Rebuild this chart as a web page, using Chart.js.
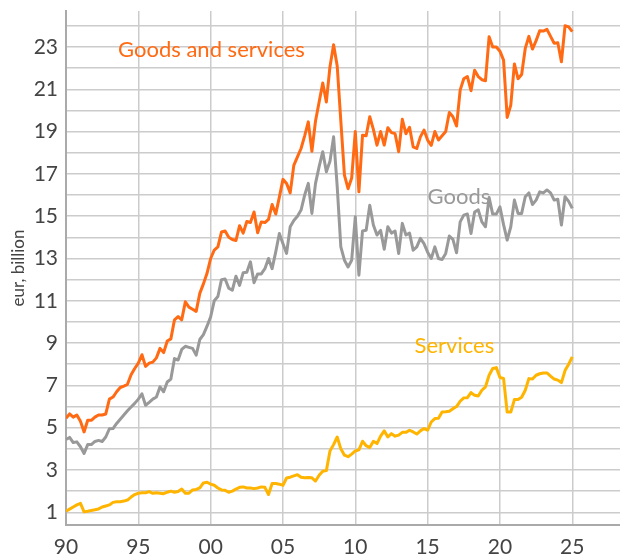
<!DOCTYPE html>
<html>
<head>
<meta charset="utf-8">
<script src="https://cdn.jsdelivr.net/npm/chart.js@4.4.1/dist/chart.umd.min.js"></script>
<style>
  html, body { margin: 0; padding: 0; background: #fff; }
  #wrap { width: 620px; height: 559px; }
</style>
</head>
<body>
<div id="wrap"><canvas id="chart"></canvas></div>
<script>
// quarterly, 1990 Q1 .. 2025 Q1 (eur, billion)
var startYear = 1990;

var goodsAndServices = [
  5.45, 5.65, 5.5, 5.6,   5.3, 4.8, 5.35, 5.35,   5.5, 5.6, 5.6, 5.65,
  6.35, 6.45, 6.7, 6.9,   6.97, 7.05, 7.5, 7.8,   8.05, 8.45, 7.9, 8.05,
  8.1, 8.3, 8.75, 8.55,   9.1, 9.2, 10.1, 10.25,  10.1, 10.95, 10.7, 10.6,
  10.5, 11.35, 11.8, 12.3, 13.0, 13.4, 13.55, 14.25, 14.3, 14.0, 13.9, 13.85,
  14.55, 14.2, 14.75, 14.7, 15.2, 14.22, 14.73, 14.7, 14.85, 15.55, 15.1, 15.9,
  16.74, 16.55, 16.1, 17.4, 17.8, 18.2, 18.8, 19.46, 18.07, 19.5, 20.4, 21.3,
  20.4, 22.07, 23.1, 22.1, 19.5, 16.94, 16.3, 16.8, 19.0, 16.15, 18.83, 18.8,
  19.7, 19.1, 18.36, 19.0, 18.36, 19.18, 18.95, 18.9, 18.05, 19.58, 18.9, 19.2,
  18.28, 18.2, 18.75, 19.07, 18.6, 18.35, 19.0, 18.6, 18.8, 19.0, 19.9, 19.7,
  19.26, 20.96, 21.5, 21.6, 20.93, 21.9, 21.6, 21.45, 21.4, 23.48, 23.0, 23.0,
  22.8, 22.38, 19.67, 20.25, 22.2, 21.5, 21.7, 22.93, 23.5, 22.9, 23.3, 23.77,
  23.75, 23.83, 23.5, 23.17, 23.2, 22.3, 24.0, 23.95, 23.72
];

var goods = [
  4.44, 4.54, 4.3, 4.33,  4.1, 3.78, 4.2, 4.2,    4.35, 4.4, 4.35, 4.56,
  4.95, 4.96, 5.2, 5.4,   5.6, 5.8, 5.98, 6.15,   6.35, 6.6, 6.06, 6.2,
  6.35, 6.45, 6.93, 6.7,  7.16, 7.3, 8.27, 8.2,   8.7, 8.85, 8.8, 8.75,
  8.43, 9.17, 9.4, 9.8,   10.24, 11.0, 11.2, 12.0, 12.03, 11.6, 11.5, 12.16,
  11.73, 12.33, 12.35, 12.84, 11.85, 12.27, 12.27, 12.52, 13.0, 12.52, 13.31, 14.18,
  13.7, 13.24, 14.5, 14.8, 15.0, 15.29, 16.0, 16.55, 15.13, 16.55, 17.34, 18.05,
  17.1, 17.6, 18.75, 16.4, 13.55, 12.92, 12.6, 12.92, 14.97, 12.21, 14.3, 14.33,
  15.52, 14.58, 14.11, 14.33, 13.44, 14.5, 14.2, 14.3, 13.24, 14.66, 14.11, 14.2,
  13.39, 13.55, 13.95, 13.7, 13.3, 13.0, 13.55, 13.0, 12.95, 13.24, 14.06, 13.9,
  13.27, 14.73, 15.05, 15.1, 14.18, 15.2, 15.3, 14.73, 14.5, 15.88, 15.1, 15.1,
  15.44, 14.6, 13.87, 14.5, 15.76, 15.13, 15.13, 15.92, 16.1, 15.55, 15.76, 16.15,
  16.1, 16.24, 16.1, 15.76, 15.8, 14.58, 15.92, 15.7, 15.37
];

var services = [
  1.05, 1.15, 1.25, 1.35, 1.42, 1.02, 1.05, 1.09,  1.12, 1.16, 1.25, 1.3,
  1.35, 1.47, 1.5, 1.5,   1.53, 1.58, 1.72, 1.84,  1.9, 1.92, 1.92, 1.98,
  1.9, 1.92, 1.9, 1.88,   1.95, 2.0, 1.95, 1.98,   2.1, 1.9, 1.9, 2.06,
  2.08, 2.15, 2.39, 2.42, 2.33, 2.28, 2.15, 2.06,  2.04, 1.95, 2.0, 2.1,
  2.18, 2.2, 2.15, 2.15,  2.12, 2.15, 2.2, 2.18,   1.84, 2.36, 2.36, 2.33,
  2.28, 2.62, 2.66, 2.72, 2.78, 2.66, 2.63, 2.65,  2.63, 2.48, 2.75, 2.94,
  2.97, 3.9, 4.2, 4.56,   4.0, 3.7, 3.63, 3.75,    3.9, 3.95, 4.36, 4.15,
  4.06, 4.36, 4.25, 4.6,  4.85, 4.56, 4.72, 4.6,   4.65, 4.78, 4.78, 4.88,
  4.8, 4.7, 4.85, 4.96,   4.88, 5.27, 5.43, 5.45,  5.74, 5.75, 5.78, 5.9,
  6.0, 6.25, 6.41, 6.42,  6.66, 6.53, 6.5, 6.77,   6.93, 7.48, 7.8, 7.84,
  7.37, 7.33, 5.74, 5.74, 6.33, 6.33, 6.44, 6.77,  7.32, 7.3, 7.48, 7.55,
  7.59, 7.59, 7.44, 7.3,  7.25, 7.13, 7.7, 8.0, 8.35
];

var quarters = [];
for (var i = 0; i < goodsAndServices.length; i++) {
  quarters.push(startYear + i / 4);
}

var seriesNames = ['Goods and services', 'Goods', 'Services'];
var seriesColors = ['#ff6a13', '#999999', '#ffb400'];
// where each series name is written, in data units (year, eur bn)
var nameAnchors = [[1993.6, 22.85], [2015.0, 15.9], [2014.1, 8.85]];

function toPoints(values) {
  return values.map(function(v, i) { return {x: quarters[i], y: v}; });
}

var fontFamily = 'Lato, "Open Sans", sans-serif';

// draws the series names next to the lines
var seriesLabels = {
  id: 'seriesLabels',
  afterDatasetsDraw: function(chart) {
    var ctx = chart.ctx;
    var xs = chart.scales.x, ys = chart.scales.y;
    ctx.save();
    ctx.font = '22px ' + fontFamily;
    ctx.textBaseline = 'middle';
    ctx.textAlign = 'left';
    seriesNames.forEach(function(name, i) {
      ctx.fillStyle = seriesColors[i];
      ctx.fillText(name, xs.getPixelForValue(nameAnchors[i][0]), ys.getPixelForValue(nameAnchors[i][1]));
    });
    ctx.restore();
  }
};

new Chart(document.getElementById('chart'), {
  type: 'line',
  data: {
    datasets: [
      {label: seriesNames[0], data: toPoints(goodsAndServices), borderColor: seriesColors[0]},
      {label: seriesNames[1], data: toPoints(goods), borderColor: seriesColors[1]},
      {label: seriesNames[2], data: toPoints(services), borderColor: seriesColors[2]}
    ]
  },
  options: {
    responsive: true,
    maintainAspectRatio: false,
    animation: false,
    layout: { padding: { top: 11, right: 0, left: 0, bottom: 0 } },
    elements: {
      point: { radius: 0 },
      line: { borderWidth: 3, tension: 0, borderJoinStyle: 'round' }
    },
    plugins: {
      legend: { display: false },
      tooltip: { enabled: false }
    },
    scales: {
      x: {
        type: 'linear',
        min: 1990,
        max: 2028.3,
        afterFit: function(scale) {
          scale.height = 34;
          scale.paddingLeft = 0;
          scale.paddingRight = 0;
        },
        grid: { color: '#cccccc', lineWidth: 1.5, drawTicks: false },
        border: { color: '#aaaaaa', width: 2 },
        ticks: {
          stepSize: 5,
          includeBounds: false,
          padding: 10,
          color: '#444444',
          font: { family: fontFamily, size: 21 },
          maxRotation: 0,
          callback: function(v) { return String(v % 100).padStart(2, '0'); }
        }
      },
      y: {
        min: 0.4,
        max: 24.7,
        afterFit: function(scale) {
          scale.width = 66;
          scale.paddingTop = 0;
          scale.paddingBottom = 0;
        },
        grid: { color: '#cccccc', lineWidth: 1.5, drawTicks: false },
        border: { color: '#aaaaaa', width: 2 },
        title: {
          display: true,
          text: 'eur, billion',
          color: '#444444',
          font: { family: fontFamily, size: 17 },
          padding: { top: 8, bottom: 0 }
        },
        ticks: {
          stepSize: 1,
          includeBounds: false,
          autoSkip: false,
          padding: 8,
          color: '#444444',
          font: { family: fontFamily, size: 21 },
          callback: function(v) { return (v % 2 === 1) ? String(v) : ''; }
        }
      }
    }
  },
  plugins: [seriesLabels]
});
</script>
</body>
</html>
